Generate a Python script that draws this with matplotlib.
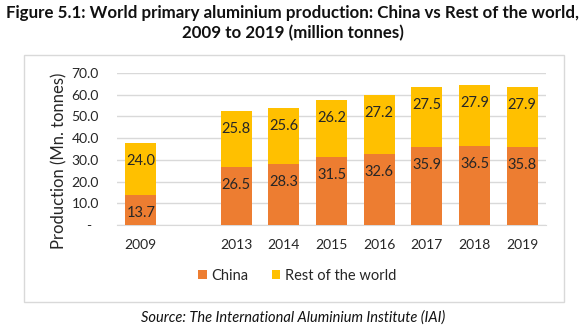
import numpy as np
import matplotlib
matplotlib.use("Agg")
import matplotlib.pyplot as plt
from matplotlib.patches import Rectangle

plt.rcParams['font.family'] = ['Lato', 'DejaVu Sans']

years = ["2009", "", "2013", "2014", "2015", "2016", "2017", "2018", "2019"]
china = [13.7, np.nan, 26.5, 28.3, 31.5, 32.6, 35.9, 36.5, 35.8]
rest = [24.0, np.nan, 25.8, 25.6, 26.2, 27.2, 27.5, 27.9, 27.9]
yticks = [0, 10, 20, 30, 40, 50, 60, 70]
ytick_labels = ["-  ", "10.0", "20.0", "30.0", "40.0", "50.0", "60.0", "70.0"]

orange = "#ED7D31"
gold = "#FFC000"
grid = "#D9D9D9"
txt = "#262626"

W, H = 586, 332
fig = plt.figure(figsize=(W / 100, H / 100), dpi=100)

# outer chart frame
fig.patches.append(Rectangle((24 / W, 1 - 302 / H), 540 / W, 247 / H,
                             transform=fig.transFigure, fill=False,
                             edgecolor=grid, linewidth=1))

fig.text(0.5, 1 - 13 / H, "Figure 5.1: World primary aluminium production: China vs Rest of the world,",
         ha="center", va="center", fontsize=12.2, fontweight="bold", color="#111111")
fig.text(0.5, 1 - 33 / H, "2009 to 2019 (million tonnes)",
         ha="center", va="center", fontsize=12.2, fontweight="bold", color="#111111")

ax = fig.add_axes([117 / W, 1 - 225 / H, 429 / W, 152 / H])
x = np.arange(len(years))
china_v = np.array(china)
rest_v = np.array(rest)
ax.bar(x, china_v, width=0.65, color=orange, label="China", zorder=3)
ax.bar(x, rest_v, width=0.65, bottom=china_v, color=gold, label="Rest of the world", zorder=3)

# labels sit just inside the top of each segment
for xi, c, r in zip(x, china_v, rest_v):
    if np.isnan(c):
        continue
    ax.annotate(f"{c:.1f}", (xi, c), xytext=(0, -18), textcoords="offset pixels",
                ha="center", va="center", fontsize=10.5, color=txt, zorder=4)
    ax.annotate(f"{r:.1f}", (xi, c + r), xytext=(0, -18), textcoords="offset pixels",
                ha="center", va="center", fontsize=10.5, color=txt, zorder=4)

ax.set_xlim(-0.5, len(years) - 0.5)
ax.set_ylim(0, 70)
ax.set_yticks(yticks)
ax.set_yticklabels(ytick_labels)
ax.set_xticks(x)
ax.set_xticklabels(years)
ax.tick_params(axis="both", length=0, labelsize=10, colors=txt)
ax.tick_params(axis="y", pad=13)
ax.tick_params(axis="x", pad=10)
ax.yaxis.grid(True, color=grid, linewidth=1, zorder=0)
for s in ["top", "right", "left"]:
    ax.spines[s].set_visible(False)
ax.spines["bottom"].set_color(grid)
ax.set_ylabel("Production (Mn. tonnes)", fontsize=12, color=txt)
ax.yaxis.set_label_coords(-50 / 429, 0.42)

ax.legend(loc="center", bbox_to_anchor=(297 / W, 1 - 276 / H), bbox_transform=fig.transFigure,
          ncol=2, frameon=False, fontsize=10.5, handlelength=0.6, handleheight=0.6,
          handletextpad=0.3, columnspacing=1.6, labelcolor=txt)

fig.text(0.5, 1 - 318 / H, "Source: The International Aluminium Institute (IAI)",
         ha="center", va="center", fontsize=10.5, style="italic", color="#111111")

fig.savefig("out.png", dpi=100)
